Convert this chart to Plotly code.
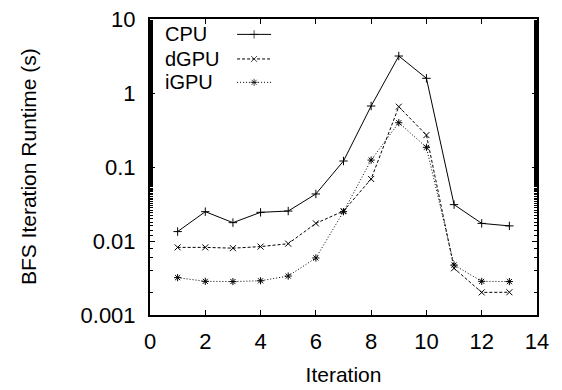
import plotly.graph_objects as go

iterations = [1, 2, 3, 4, 5, 6, 7, 8, 9, 10, 11, 12, 13]
cpu = [0.0134, 0.0249, 0.0177, 0.0244, 0.0254, 0.0432, 0.1205, 0.667, 3.16, 1.58, 0.031, 0.0173, 0.016]
dgpu = [0.0082, 0.0082, 0.0080, 0.0084, 0.0092, 0.0173, 0.0254, 0.0689, 0.653, 0.27, 0.00428, 0.00202, 0.00203]
igpu = [0.0032, 0.00285, 0.00283, 0.0029, 0.00336, 0.0059, 0.0249, 0.124, 0.397, 0.1845, 0.00474, 0.00285, 0.00283]

series = [
    ("CPU", cpu, "solid", "cross-thin-open"),
    ("dGPU", dgpu, "3px,2px", "x-thin-open"),
    ("iGPU", igpu, "1px,2px", "asterisk-open"),
]

FONT = "Liberation Sans, Arial, sans-serif"
FS = 23
fig = go.Figure()

for name, vals, dash, sym in series:
    fig.add_trace(go.Scatter(
        x=iterations, y=vals, mode="lines+markers", name=name,
        line=dict(color="black", width=1, dash=dash),
        marker=dict(symbol=sym, size=6, color="black", line=dict(width=1, color="black")),
        showlegend=False,
    ))

# custom gnuplot-style legend (text then sample)
legend_rows = [0.948, 0.865, 0.786]
for (name, vals, dash, sym), ly in zip(series, legend_rows):
    fig.add_trace(go.Scatter(
        x=[0.225, 0.269, 0.313], y=[ly, ly, ly], xaxis="x2", yaxis="y2",
        mode="lines+markers", showlegend=False, hoverinfo="skip",
        line=dict(color="black", width=1, dash=dash),
        marker=dict(symbol=sym, size=[0, 6, 0], color="black", line=dict(width=1, color="black")),
    ))
    fig.add_annotation(x=0.036, y=ly, xref="paper", yref="paper", text=name,
                       showarrow=False, xanchor="left", yanchor="middle",
                       borderpad=0,
                       font=dict(family=FONT, size=20, color="black"))

fig.add_annotation(x=-0.315, y=0.5, xref="paper", yref="paper",
                   text="BFS Iteration Runtime (s)", textangle=-90, showarrow=False,
                   xanchor="center", yanchor="middle",
                   font=dict(family=FONT, size=FS - 2, color="black"))

axis_common = dict(showline=True, linecolor="black", linewidth=2, mirror="ticks",
                   ticks="inside", tickcolor="black", tickwidth=1, ticklen=5,
                   showgrid=False, zeroline=False, automargin=False,
                   tickfont=dict(family=FONT, size=FS - 1, color="black"))

fig.update_layout(
    width=562, height=390,
    margin=dict(l=150, r=25, t=19, b=75),
    paper_bgcolor="white", plot_bgcolor="white",
    xaxis=dict(range=[0, 14], tickvals=[0, 2, 4, 6, 8, 10, 12, 14],
               title=dict(text="Iteration", font=dict(family=FONT, size=FS - 2, color="black"), standoff=14),
               ticklabelstandoff=6, **axis_common),
    yaxis=dict(type="log", range=[-3, 1], tickvals=[0.001, 0.01, 0.1, 1, 10],
               ticktext=["0.001", "0.01", "0.1", "1", "10"],
               minor=dict(ticks="inside", ticklen=3, tickcolor="black", tickwidth=1, showgrid=False),
               ticklabelstandoff=8, **axis_common),
    xaxis2=dict(range=[0, 1], overlaying="x", visible=False),
    yaxis2=dict(range=[0, 1], overlaying="y", visible=False),
)

fig.write_html("out.html")
